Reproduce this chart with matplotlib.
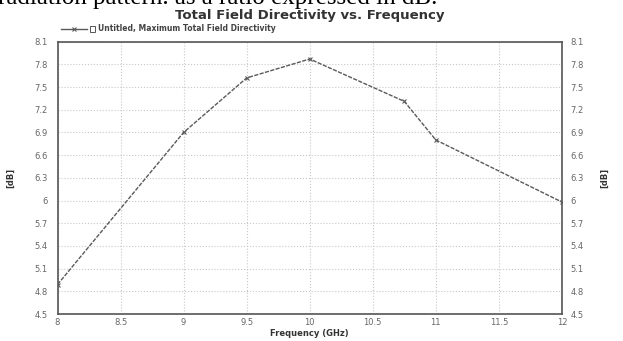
import numpy as np
import matplotlib
matplotlib.use("Agg")
import matplotlib.pyplot as plt

# data
freq_ghz = [8.0, 9.0, 9.5, 10.0, 10.75, 11.0, 12.0]
directivity_db = [4.89, 6.90, 7.62, 7.87, 7.31, 6.80, 5.98]

x_ticks = [8, 8.5, 9, 9.5, 10, 10.5, 11, 11.5, 12]
x_tick_labels = ["8", "8.5", "9", "9.5", "10", "10.5", "11", "11.5", "12"]
y_ticks = [4.5, 4.8, 5.1, 5.4, 5.7, 6.0, 6.3, 6.6, 6.9, 7.2, 7.5, 7.8, 8.1]
y_tick_labels = ["4.5", "4.8", "5.1", "5.4", "5.7", "6", "6.3", "6.6", "6.9", "7.2", "7.5", "7.8", "8.1"]

fig = plt.figure(figsize=(6.23, 3.41), dpi=100)
ax = fig.add_axes([0.0923, 0.079, 0.8097, 0.799])

line_col = "#5a5a5a"
ax.plot(freq_ghz, directivity_db, color=line_col, lw=1.0, ls=(0, (3, 1)),
        marker="x", ms=3, mew=0.8, zorder=3)

ax.set_xlim(8, 12)
ax.set_ylim(4.5, 8.1)
ax.set_xticks(x_ticks)
ax.set_xticklabels(x_tick_labels)
ax.set_yticks(y_ticks)
ax.set_yticklabels(y_tick_labels)
ax.grid(True, color="#c8c8c8", ls=":", lw=0.8)
ax.tick_params(length=0, labelsize=6, colors="#666666")
ax.tick_params(axis="x", pad=3)
ax.tick_params(axis="y", pad=7)
for s in ax.spines.values():
    s.set_color("#555555")
    s.set_linewidth(1.2)

# duplicate axis on the right
ax2 = ax.twinx()
ax2.set_ylim(4.5, 8.1)
ax2.set_yticks(y_ticks)
ax2.set_yticklabels(y_tick_labels)
ax2.tick_params(length=0, labelsize=6, colors="#666666", pad=6)
for s in ax2.spines.values():
    s.set_visible(False)

ax.set_ylabel("[dB]", fontsize=6, fontweight="bold", color="#333333", labelpad=14)
ax2.set_ylabel("[dB]", fontsize=6, fontweight="bold", color="#333333", labelpad=12)
ax.set_xlabel("Frequency (GHz)", fontsize=6, fontweight="bold", color="#333333", labelpad=1)

# title and legend-like header
fig.text(0.497, 0.955, "Total Field Directivity vs. Frequency", ha="center", va="center",
         fontsize=9.5, fontweight="bold", color="#333333")
fig.lines.append(plt.Line2D([0.098, 0.140], [0.915, 0.915], transform=fig.transFigure,
                            color=line_col, lw=1.0))
fig.lines.append(plt.Line2D([0.119], [0.915], transform=fig.transFigure,
                            color=line_col, marker="x", ms=3, mew=0.8, ls="none"))
fig.patches.append(plt.Rectangle((0.145, 0.905), 0.008, 0.02, transform=fig.transFigure,
                                 fill=False, ec="#555555", lw=0.7))
fig.text(0.157, 0.915, "Untitled, Maximum Total Field Directivity", ha="left", va="center",
         fontsize=5.5, fontweight="bold", color="#444444")

# cropped caption from the page above
fig.text(-0.003, 0.987, "radiation pattern. as a ratio expressed in dB.", ha="left",
         va="baseline", fontsize=18, family="Liberation Serif", color="black")

fig.savefig("out.png", dpi=100)
